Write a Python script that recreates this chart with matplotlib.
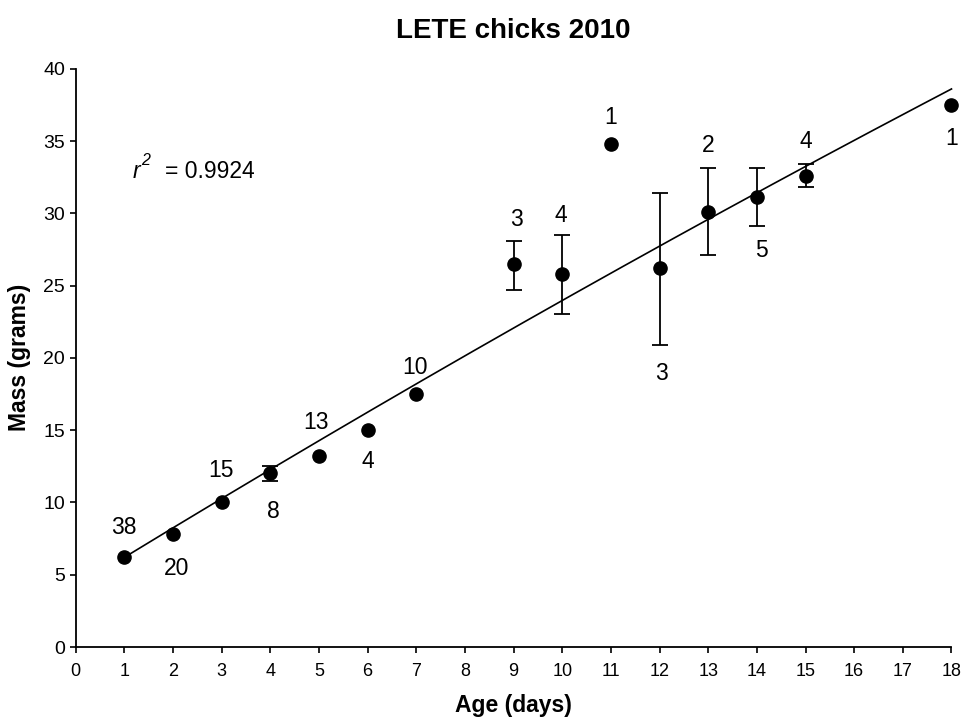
import numpy as np
import matplotlib
matplotlib.use("Agg")
import matplotlib.pyplot as plt

plt.rcParams['font.family'] = ['Liberation Sans', 'DejaVu Sans']

# mean mass per age
age = [1, 2, 3, 4, 5, 6, 7, 9, 10, 11, 12, 13, 14, 15, 18]
mass = [6.25, 7.85, 10.06, 12.03, 13.2, 15.03, 17.47, 26.5, 25.8, 34.8, 26.2, 30.1, 31.1, 32.6, 37.5]

# error bars (only some ages have them)
err_age = [4, 9, 10, 12, 13, 14, 15]
err_mean = [12.03, 26.5, 25.8, 26.2, 30.1, 31.1, 32.6]
err_low = [11.45, 24.7, 23.0, 20.9, 27.1, 29.1, 31.8]
err_high = [12.53, 28.1, 28.5, 31.4, 33.1, 33.1, 33.4]

# sample sizes and where they sit
n_text = ['38', '20', '15', '8', '13', '4', '10', '3', '4', '1', '3', '2', '5', '4', '1']
n_x = [1.0, 2.07, 2.98, 4.06, 4.94, 6.01, 6.98, 9.06, 9.98, 11.0, 12.03, 13.0, 14.09, 15.0, 18.01]
n_y = [8.24, 5.45, 12.2, 9.4, 15.5, 12.8, 19.3, 29.6, 29.85, 36.6, 18.95, 34.7, 27.4, 35.0, 35.2]

# fitted curve coefficients (c0 + c1*x + c2*x^2)
fit_coef = [4.14, 2.0685, -0.00856]
fit_range = [1, 18]
r2_label = 0.9924

fig = plt.figure(figsize=(9.65, 7.21), dpi=100)
ax = fig.add_axes([0.0784, 0.1026, 0.9076, 0.8021])

xf = np.linspace(fit_range[0], fit_range[1], 200)
yf = fit_coef[0] + fit_coef[1] * xf + fit_coef[2] * xf ** 2
ax.plot(xf, yf, color='black', lw=1.2, zorder=2, clip_on=False)

lo = np.array(err_mean) - np.array(err_low)
hi = np.array(err_high) - np.array(err_mean)
ax.errorbar(err_age, err_mean, yerr=[lo, hi], fmt='none', ecolor='black',
            elinewidth=1.3, capsize=6, capthick=1.3, zorder=3)
ax.plot(age, mass, 'o', color='black', markersize=9.5, zorder=4, clip_on=False)

for t, x, y in zip(n_text, n_x, n_y):
    ax.text(x, y, t, ha='center', va='center', fontsize=16.5)

# r^2 label
ax.text(1.18, 32.9, 'r', ha='left', va='center', fontsize=16.5, fontstyle='italic')
ax.text(1.34, 33.65, '2', ha='left', va='center', fontsize=11.5, fontstyle='italic')
ax.text(1.83, 32.9, '= %.4f' % r2_label, ha='left', va='center', fontsize=16.5)

ax.set_xlim(0, 18)
ax.set_ylim(0, 40)
ax.set_xticks(range(0, 19))
ax.set_yticks(range(0, 41, 5))
ax.spines['top'].set_visible(False)
ax.spines['right'].set_visible(False)
ax.spines['left'].set_linewidth(1.3)
ax.spines['bottom'].set_linewidth(1.3)
ax.tick_params(direction='out', length=4.5, width=1.2, labelsize=13)
ax.tick_params(axis='x', pad=7)
ax.tick_params(axis='y', pad=3, labelsize=14)

ax.set_xlabel('Age (days)', fontsize=16.5, fontweight='bold', labelpad=10)
ax.set_ylabel('Mass (grams)', fontsize=16.5, fontweight='bold', labelpad=9)
ax.set_title('LETE chicks 2010', fontsize=20, fontweight='bold', pad=22)

fig.savefig('out.png', dpi=100)
